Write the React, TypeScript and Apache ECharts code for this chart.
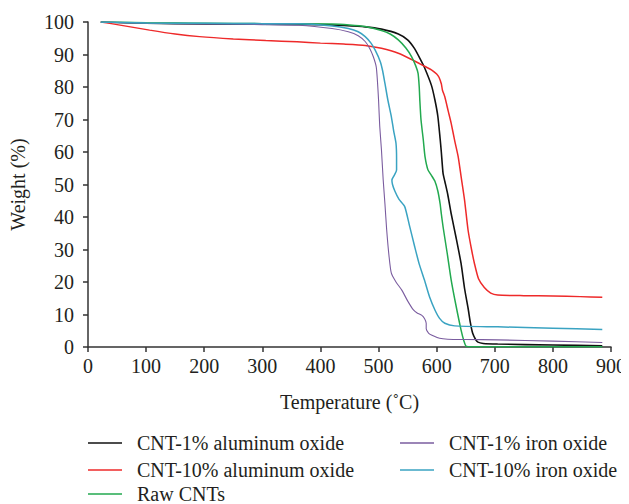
import React, { useEffect, useRef } from "react";
import * as echarts from "echarts";

// Thermogravimetric curves: [temperature °C, weight %]
const alu1: [number, number][] = [
  [22, 100], [100, 99.6], [200, 99.4], [300, 99.3], [400, 99.2], [440, 98.9], [477, 98.5],
  [505, 97.8], [534, 96.3], [550, 94.5], [562, 91.8], [572, 88.5], [579, 86], [591, 80.5],
  [597, 76], [602, 71], [606, 64], [608, 60], [611, 53.4], [614, 51], [619, 47], [625, 41],
  [633, 34], [642, 25.7], [648, 18], [654, 12], [658, 7.5], [662, 4.2], [667, 2.3], [671, 1.5],
  [680, 1.1], [705, 0.9], [800, 0.6], [885, 0.4],
];
const alu10: [number, number][] = [
  [22, 100], [40, 99.5], [106, 97.5], [150, 96.3], [192, 95.5], [250, 94.8], [306, 94.3],
  [360, 93.9], [400, 93.5], [440, 93.2], [477, 92.8], [505, 91.9], [534, 90.4], [562, 88],
  [580, 86.3], [591, 85.3], [600, 84], [604, 83], [608, 81], [610, 79], [614, 77], [620, 72.5],
  [625, 68.8], [631, 63.5], [637, 58.6], [642, 52.5], [648, 45.2], [654, 36], [660, 30],
  [665, 25.7], [672, 21], [682, 18.3], [693, 16.6], [705, 16], [750, 15.8], [800, 15.7],
  [847, 15.5], [885, 15.3],
];
const rawCnt: [number, number][] = [
  [22, 100], [100, 99.8], [200, 99.6], [300, 99.5], [420, 99.4], [450, 99.1], [477, 98.6],
  [505, 97.4], [520, 96.3], [534, 94.5], [547, 92], [557, 89.3], [564, 86.5], [568, 84.2],
  [570, 80], [571, 76], [573, 70], [577, 63.7], [580, 58.5], [585, 54.5], [591, 52.8],
  [597, 51], [602, 48], [606, 44], [608, 41], [611, 37], [618, 29], [625, 20.6], [633, 13],
  [642, 5.2], [647, 1.8], [651, 0.2], [660, 0.1], [885, 0.1],
];
const iron1: [number, number][] = [
  [22, 100], [100, 99.6], [200, 99.4], [300, 99.2], [363, 99], [420, 98], [448, 97], [465, 95.8],
  [477, 94], [485, 91.8], [491, 89.3], [496, 86.2], [498, 82], [500, 76], [502, 68], [505, 60.6],
  [508, 51.4], [511, 44], [514, 36], [518, 28], [522, 22.7], [530, 20], [540, 17.5], [550, 14.2],
  [560, 11.4], [567, 10.4], [574, 9.8], [579, 8.8], [582, 7.3], [582, 5.6], [586, 4.3],
  [591, 3.7], [605, 2.7], [619, 2.4], [650, 2.3], [705, 2.2], [800, 1.8], [885, 1.4],
];
const iron10: [number, number][] = [
  [22, 100], [100, 99.7], [200, 99.6], [300, 99.5], [363, 99.5], [420, 98.8], [448, 98],
  [465, 97], [477, 95.5], [487, 93.5], [494, 91.4], [503, 87.8], [507, 85], [511, 81.1],
  [516, 76], [522, 70.9], [526, 66.5], [530, 62.7], [531, 58], [531, 54.5], [527, 52.8],
  [523, 51.4], [524, 50], [528, 48], [535, 45.5], [545, 43.2], [553, 37.5], [562, 31],
  [570, 25.5], [579, 20.6], [588, 15.3], [597, 11.4], [605, 8.8], [614, 7.3], [631, 6.5],
  [705, 6.2], [800, 5.8], [885, 5.4],
];

const seriesNames = [
  "CNT-1% aluminum oxide",
  "CNT-10% aluminum oxide",
  "Raw CNTs",
  "CNT-1% iron oxide",
  "CNT-10% iron oxide",
];
const seriesData = [alu1, alu10, rawCnt, iron1, iron10];
const seriesColors = ["#111111", "#ee2a2a", "#22a94f", "#7a5c9f", "#3aa3c2"];
const seriesWidths = [1.6, 1.5, 1.5, 1.1, 1.5];

// Legend slots: two columns, entries listed top to bottom
const legendLeft = [88, 88, 88, 400, 400];
const legendTop = [433, 460, 484, 433, 460];

const FONT = "Liberation Serif";
const INK = "#231f20";

export default function App() {
  const ref = useRef<HTMLDivElement>(null);

  useEffect(() => {
    if (!ref.current) return;
    const chart = echarts.init(ref.current, undefined, { renderer: "svg" });

    chart.setOption({
      animation: false,
      backgroundColor: "#ffffff",
      grid: { left: 88, right: 15, top: 22, bottom: 157 },
      legend: seriesNames.map((name, i) => ({
        left: legendLeft[i],
        top: legendTop[i],
        padding: 0,
        data: [name],
        icon: "rect",
        itemWidth: 34,
        itemHeight: 1.6,
        textStyle: {
          fontFamily: FONT,
          fontSize: 20,
          lineHeight: 18,
          color: INK,
          padding: [0, 0, 0, 10],
        },
      })),
      xAxis: {
        type: "value",
        min: 0,
        max: 900,
        interval: 100,
        name: "Temperature (˚C)",
        nameLocation: "middle",
        nameGap: 45,
        nameTextStyle: { fontFamily: FONT, fontSize: 20, color: INK },
        axisLine: { lineStyle: { color: "#333333", width: 1.5 } },
        axisTick: { show: true, length: 5, lineStyle: { color: "#333333", width: 1.5 } },
        axisLabel: { fontFamily: FONT, fontSize: 20, color: INK, margin: 9 },
        splitLine: { show: false },
      },
      yAxis: {
        type: "value",
        min: 0,
        max: 100,
        interval: 10,
        name: "Weight (%)",
        nameLocation: "middle",
        nameGap: 60,
        nameTextStyle: { fontFamily: FONT, fontSize: 20, color: INK },
        axisLine: { show: true, lineStyle: { color: "#333333", width: 1.5 } },
        axisTick: { show: true, length: 5, lineStyle: { color: "#333333", width: 1.5 } },
        axisLabel: { fontFamily: FONT, fontSize: 20, color: INK, margin: 14 },
        splitLine: { show: false },
      },
      series: seriesNames.map((name, i) => ({
        name,
        type: "line",
        data: seriesData[i],
        symbol: "none",
        smooth: 0.2,
        color: seriesColors[i],
        lineStyle: { color: seriesColors[i], width: seriesWidths[i] },
      })),
    });

    return () => chart.dispose();
  }, []);

  return <div ref={ref} style={{ width: 629, height: 504, marginLeft: -8, marginTop: -8 }} />;
}
